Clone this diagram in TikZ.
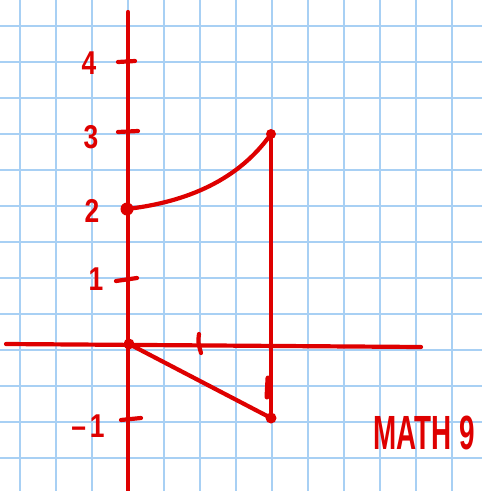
\documentclass[tikz,border=0pt]{standalone}
\usepackage{fontspec}
\setmainfont{Liberation Sans}
\definecolor{gridblue}{RGB}{168,208,244}
\definecolor{pen}{RGB}{222,0,0}
\begin{document}
\begin{tikzpicture}[x=1pt,y=-1pt,
  gridline/.style={gridblue,line width=1.8pt},
  penline/.style={pen,line width=4.2pt,line cap=round,line join=round},
  ticklbl/.style={pen,font=\fontsize{33}{33}\selectfont\bfseries,inner sep=0pt,xscale=0.8},
  dotpt/.style={circle,fill=pen,inner sep=0pt,minimum size=#1}]
\fill[white] (0,0) rectangle (482,491);
\useasboundingbox (0,0) rectangle (482,491);
% grid
\foreach \k in {0,...,12} {
  \draw[gridline] ({20+36*\k},0) -- ({20+36*\k},491);
  \draw[gridline] (0,{26+36*\k}) -- (482,{26+36*\k});
}
% named points
\coordinate (ytop) at (128,12);
\coordinate (ybot) at (128,491);
\coordinate (xl) at (6,344);
\coordinate (xr) at (421,347);
\node[dotpt=13pt] (A) at (127,209) {};
\node[dotpt=11pt] (O) at (129,344) {};
\node[dotpt=10pt] (B) at (271,134) {};
\node[dotpt=11pt] (C) at (271,418) {};
% axes
\draw[penline] (ytop) -- (ybot);
\draw[penline] (xl) -- (xr);
% ticks on y axis
\coordinate (t4a) at (118,62); \coordinate (t4b) at (135,61);
\coordinate (t3a) at (118,132); \coordinate (t3b) at (138,131);
\coordinate (t1a) at (116,281); \coordinate (t1b) at (137,278);
\coordinate (tma) at (121,420); \coordinate (tmb) at (141,418);
\draw[penline] (t4a) -- (t4b);
\draw[penline] (t3a) -- (t3b);
\draw[penline] (t1a) -- (t1b);
\draw[penline] (tma) -- (tmb);
% ticks on x axis
\coordinate (x1a) at (199,334); \coordinate (x1b) at (201,353);
\draw[penline] (x1a) .. controls (198,342) .. (x1b);
\coordinate (x2a) at (268,378); \coordinate (x2b) at (267,397);
\draw[penline,line width=5pt] (x2a) -- (x2b);
% labels
\node[ticklbl] (l4) at (89,63) {4};
\node[ticklbl] (l3) at (91,137) {3};
\node[ticklbl] (l2) at (92,211) {2};
\node[ticklbl] (l1) at (96,279) {1};
\node[ticklbl] (lm1) at (88,426) {–\hspace{5pt}1};
\node[pen,font=\fontsize{48}{48}\selectfont\bfseries,inner sep=0pt,xscale=0.58] (math) at (424,433) {MATH 9};
% shape
\draw[penline] (A.center) .. controls (178,203) and (235,185) .. (B.center);
\draw[penline] (B.center) -- (C.center);
\draw[penline] (O.center) -- (C.center);
\end{tikzpicture}
\end{document}
